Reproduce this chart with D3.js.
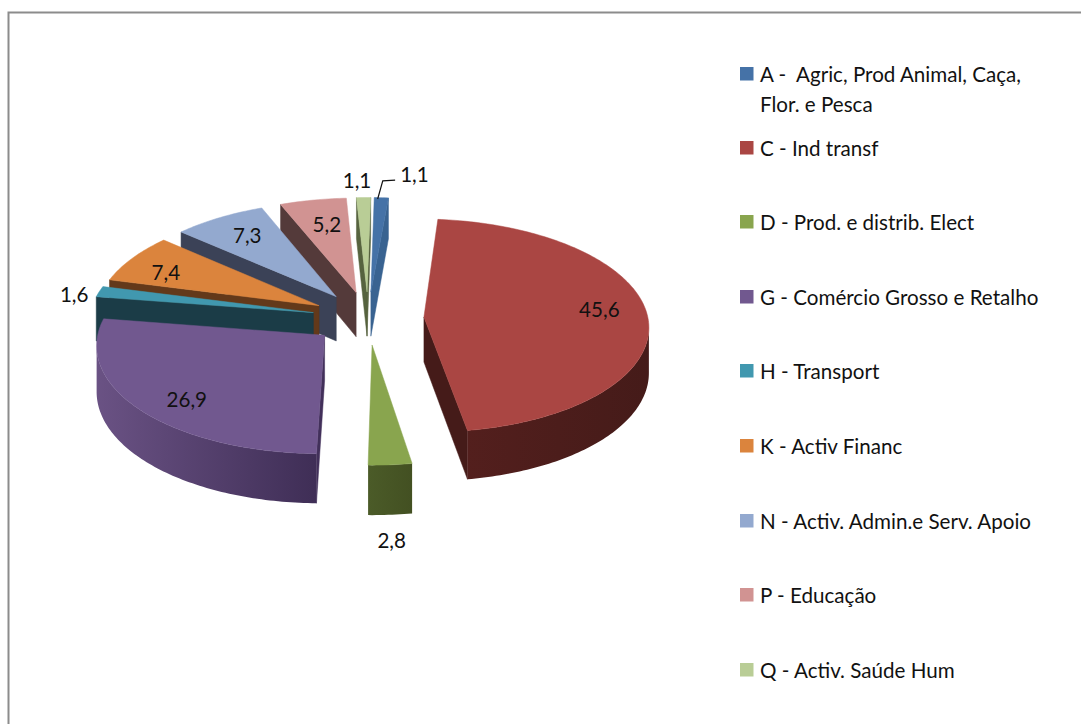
<!DOCTYPE html>
<html><head><meta charset="utf-8">
<script src="https://cdn.jsdelivr.net/npm/d3@7/dist/d3.min.js"></script>
<style>html,body{margin:0;padding:0;background:#fff}svg{display:block}text{font-family:Lato,"Open Sans",sans-serif;fill:#111}</style>
</head><body><svg id="c" width="1081" height="724"></svg>
<script>
// DATA
const categories = ["A","C","D","G","H","K","N","P","Q"];
const legendLines = [["A -  Agric, Prod Animal, Caça,","Flor. e Pesca"],["C - Ind transf"],["D - Prod. e distrib. Elect"],["G - Comércio Grosso e Retalho"],["H - Transport"],["K - Activ Financ"],["N - Activ. Admin.e Serv. Apoio"],["P - Educação"],["Q - Activ. Saúde Hum"]];
const values = [1.1,45.6,2.8,26.9,1.6,7.4,7.3,5.2,1.1];
const valueLabels = ["1,1","45,6","2,8","26,9","1,6","7,4","7,3","5,2","1,1"];
// STYLE
const topColors  = ["#4572a7","#aa4643","#89a54e","#71588f","#4198af","#db843d","#93a9cf","#d19392","#b9cd96"];
const faceColors = ["#396391","#451b19","#465425","#42305a","#1b3c47","#63391a","#3b4257","#543a3a","#56633f"];
const wallLight  = ["#396391","#531f1d","#4b5b28","#6a5284","#1b3c47","#63391a","#3b4257","#543a3a","#56633f"];
const wallDark   = ["#396391","#451b19","#435022","#3f2e56","#1b3c47","#63391a","#3b4257","#543a3a","#56633f"];
// LAYOUT
const cx=368, cy=318, rx=224, ry=106, persp=0.08, depth=45, explode=0.25, rotation=1*Math.PI/180;
const labelDeg=[9.8,84.4,177.3,225.8,279.2,295.2,325.7,348.5,357.6];
const labelRad=[1.29,0.794,1.547,0.797,1.105,0.79,0.765,0.72,1.204];
const leaderDeg=[2,2.9,5.8], leaderRad=[0.984,1.194,1.208];
const legendY=[74,148,222,297,371,446,521,595,670], legendLineGap=30;
const fontSize=20.6;

const svg=d3.select("#c");
const defs=svg.append("defs");
// frame
svg.append("path").attr("d",d3.line()([[1081,12.5],[8.5,12.5],[8.5,724]])).attr("fill","none").attr("stroke","#8c8c8c").attr("stroke-width",2);

const project=(u,v,h=0)=>{const s=1/(1-persp*v);return [cx+rx*u*s, cy+ry*v*s+h*s];};
const pie=d3.pie().sort(null).value(d=>d).startAngle(rotation).endAngle(2*Math.PI+rotation);
const arcs=pie(values).map((a,i)=>{
  const mid=(a.startAngle+a.endAngle)/2;
  return {...a,i,mid,ax:explode*Math.sin(mid),ay:-explode*Math.cos(mid)};
});
const rimPoint=(d,ang,r=1)=>[d.ax+r*Math.sin(ang), d.ay-r*Math.cos(ang)];
const closed=d3.line().curve(d3.curveLinearClosed);
const plain=d3.line();

const g=svg.append("g");
arcs.slice().sort((a,b)=>a.ay-b.ay).forEach(d=>{
  const n=Math.max(3,Math.ceil((d.endAngle-d.startAngle)/(Math.PI/180)));
  const angs=d3.range(n+1).map(k=>d.startAngle+(d.endAngle-d.startAngle)*k/n);
  const rim=angs.map(a=>rimPoint(d,a));
  const apex=[d.ax,d.ay];
  const wall=(list)=>list.map(p=>project(p[0],p[1],0)).concat(list.slice().reverse().map(p=>project(p[0],p[1],depth)));
  const G=g.append("g").attr("class","slice-"+categories[d.i]);
  // radial faces
  const pApex=project(...apex), pS=project(...rim[0]), pE=project(...rim[n]);
  if(pS[0]<pApex[0]) G.append("path").attr("d",closed(wall([apex,rim[0]]))).attr("fill",faceColors[d.i]).attr("stroke",faceColors[d.i]).attr("stroke-width",.5);
  if(pApex[0]<pE[0]) G.append("path").attr("d",closed(wall([rim[n],apex]))).attr("fill",faceColors[d.i]).attr("stroke",faceColors[d.i]).attr("stroke-width",.5);
  // outer wall: the part of the rim running leftwards on screen faces the viewer
  const vis=rim.filter((p,k)=>{
    const q=project(...p), nb=project(...rim[Math.min(k+1,n)]), pv=project(...rim[Math.max(k-1,0)]);
    return nb[0]<q[0]||pv[0]>q[0];
  });
  if(vis.length>1){
    const id="w"+d.i;
    const gr=defs.append("linearGradient").attr("id",id).attr("x1",0).attr("x2",1).attr("y1",0).attr("y2",0);
    gr.append("stop").attr("offset",0).attr("stop-color",wallLight[d.i]);
    gr.append("stop").attr("offset",1).attr("stop-color",wallDark[d.i]);
    G.append("path").attr("d",closed(wall(vis))).attr("fill",`url(#${id})`);
  }
  // top
  G.append("path").attr("d",closed([apex,...rim].map(p=>project(...p)))).attr("fill",topColors[d.i]).attr("stroke",topColors[d.i]).attr("stroke-width",.5);
});

// data labels
const polar=(d,deg,r)=>{const a=deg*Math.PI/180;return project(d.ax+r*Math.sin(a),d.ay-r*Math.cos(a));};
svg.append("g").attr("font-size",fontSize).selectAll("text").data(arcs).join("text")
  .attr("text-anchor","middle").attr("dominant-baseline","central")
  .attr("x",d=>polar(d,labelDeg[d.i],labelRad[d.i])[0])
  .attr("y",d=>polar(d,labelDeg[d.i],labelRad[d.i])[1])
  .text(d=>valueLabels[d.i]);
// leader line
svg.append("path").attr("d",plain(leaderDeg.map((a,k)=>polar(arcs[0],a,leaderRad[k])))).attr("fill","none").attr("stroke","#111").attr("stroke-width",1.2);

// legend
const lg=svg.append("g");
legendLines.forEach((lines,i)=>{
  lg.append("rect").attr("x",740).attr("y",legendY[i]-7).attr("width",13.5).attr("height",13.5).attr("fill",topColors[i]);
  lines.forEach((t,k)=>lg.append("text").attr("x",760).attr("y",legendY[i]+k*legendLineGap).attr("dominant-baseline","central").attr("font-size",fontSize).attr("xml:space","preserve").style("white-space","pre").text(t));
});
</script></body></html>
